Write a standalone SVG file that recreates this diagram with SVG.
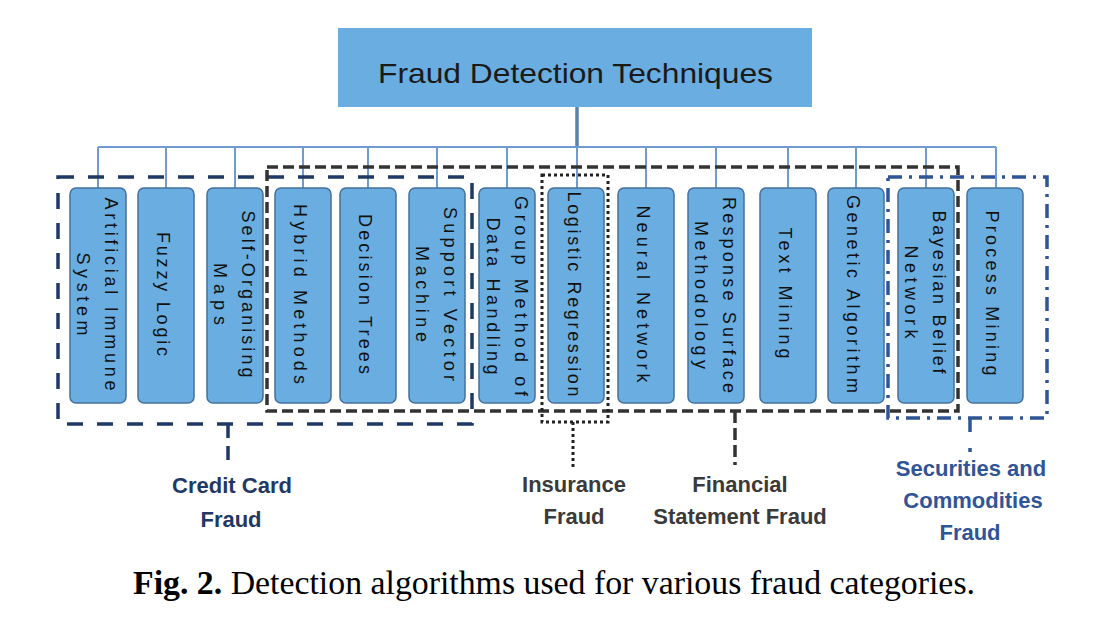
<svg xmlns="http://www.w3.org/2000/svg" width="1120" height="625" viewBox="0 0 1120 625">
<style>
.bg{fill:#ffffff}
.top{fill:#6aade0}
.toptxt{font-family:"Liberation Sans",Arial,sans-serif;font-size:28px;fill:#1a1a1a}
.conn{stroke:#6f9bd0;stroke-width:2;fill:none}
.stem{stroke:#5b82ad;stroke-width:3.5;fill:none}
.node{fill:#6aade0;stroke:#45709c;stroke-width:1.5}
.nt{font-family:"Liberation Sans",Arial,sans-serif;font-size:18px;fill:#111;text-anchor:middle}
.g-cc{fill:none;stroke:#1f3864;stroke-width:3.5;stroke-dasharray:16 14}
.g-fs{fill:none;stroke:#333333;stroke-width:3.5;stroke-dasharray:11 5}
.g-in{fill:none;stroke:#222222;stroke-width:3;stroke-dasharray:3 3}
.g-sc{fill:none;stroke:#2f5597;stroke-width:3.5;stroke-dasharray:14 7 3 7}
.lbl{font-family:"Liberation Sans",Arial,sans-serif;font-size:22px;font-weight:bold;text-anchor:middle}
.cap{font-family:"Liberation Serif","Times New Roman",serif;font-size:33px;fill:#000;text-anchor:middle}
</style>
<rect class="bg" x="0" y="0" width="1120" height="625"/>

<g id="root">
<rect class="top" x="338" y="28" width="474" height="79"/>
<text class="toptxt" x="575.5" y="83" text-anchor="middle" textLength="395" lengthAdjust="spacingAndGlyphs">Fraud Detection Techniques</text>
</g>

<g id="connectors">
<line class="stem" x1="577" y1="107" x2="577" y2="148"/>
<line class="conn" x1="98" y1="147" x2="996" y2="147"/>
<line class="conn" x1="98" y1="147" x2="98" y2="188"/>
<line class="conn" x1="166" y1="147" x2="166" y2="188"/>
<line class="conn" x1="235" y1="147" x2="235" y2="188"/>
<line class="conn" x1="303" y1="147" x2="303" y2="188"/>
<line class="conn" x1="368" y1="147" x2="368" y2="188"/>
<line class="conn" x1="437" y1="147" x2="437" y2="188"/>
<line class="conn" x1="507" y1="147" x2="507" y2="188"/>
<line class="conn" x1="577" y1="147" x2="577" y2="188"/>
<line class="conn" x1="646" y1="147" x2="646" y2="188"/>
<line class="conn" x1="716" y1="147" x2="716" y2="188"/>
<line class="conn" x1="788" y1="147" x2="788" y2="188"/>
<line class="conn" x1="856" y1="147" x2="856" y2="188"/>
<line class="conn" x1="926" y1="147" x2="926" y2="188"/>
<line class="conn" x1="996" y1="147" x2="996" y2="188"/>
</g>

<g id="group-credit-card">
<rect class="g-cc" x="58" y="177" width="414" height="247"/>
<line class="g-cc" x1="228" y1="424" x2="228" y2="467" style="stroke-dasharray:14 8"/>
<text class="lbl" fill="#1f3864"><tspan x="232" y="493">Credit Card</tspan><tspan x="231" y="527">Fraud</tspan></text>
</g>

<g id="group-financial">
<rect class="g-fs" x="267" y="167" width="691" height="244"/>
<line class="g-fs" x1="735" y1="411" x2="735" y2="465" style="stroke-dasharray:12 5"/>
<text class="lbl" fill="#3a3a3a"><tspan x="740" y="492">Financial</tspan><tspan x="740" y="524">Statement Fraud</tspan></text>
</g>

<g id="group-insurance">
<rect class="g-in" x="542" y="175" width="66" height="247"/>
<line class="g-in" x1="573" y1="422" x2="573" y2="467"/>
<text class="lbl" fill="#3a3a3a"><tspan x="574" y="492">Insurance</tspan><tspan x="574" y="524">Fraud</tspan></text>
</g>

<g id="group-securities">
<rect class="g-sc" x="888" y="177" width="159" height="241"/>
<line class="g-sc" x1="970" y1="418" x2="970" y2="452" style="stroke-dasharray:14 16 4 10"/>
<text class="lbl" fill="#2f5597"><tspan x="971" y="476">Securities and</tspan><tspan x="973" y="508">Commodities</tspan><tspan x="970" y="540">Fraud</tspan></text>
</g>

<g id="n1"><rect class="node" x="70" y="188" width="56" height="215" rx="6"/>
<g transform="translate(98,294) rotate(90)"><text class="nt" x="0" y="-6.5" textLength="193" lengthAdjust="spacing">Artificial Immune</text><text class="nt" x="0" y="21.5" textLength="83" lengthAdjust="spacing">System</text></g></g>
<g id="n2"><rect class="node" x="138" y="188" width="56" height="215" rx="6"/>
<g transform="translate(166,294) rotate(90)"><text class="nt" x="0" y="9.5" textLength="124" lengthAdjust="spacing">Fuzzy Logic</text></g></g>
<g id="n3"><rect class="node" x="207" y="188" width="56" height="215" rx="6"/>
<g transform="translate(235,294) rotate(90)"><text class="nt" x="0" y="-6.5" textLength="167" lengthAdjust="spacing">Self-Organising</text><text class="nt" x="0" y="21.5" textLength="62" lengthAdjust="spacing">Maps</text></g></g>
<g id="n4"><rect class="node" x="275" y="188" width="56" height="215" rx="6"/>
<g transform="translate(303,294) rotate(90)"><text class="nt" x="0" y="9.5" textLength="180" lengthAdjust="spacing">Hybrid Methods</text></g></g>
<g id="n5"><rect class="node" x="340" y="188" width="56" height="215" rx="6"/>
<g transform="translate(368,294) rotate(90)"><text class="nt" x="0" y="9.5" textLength="160" lengthAdjust="spacing">Decision Trees</text></g></g>
<g id="n6"><rect class="node" x="409" y="188" width="56" height="215" rx="6"/>
<g transform="translate(437,294) rotate(90)"><text class="nt" x="0" y="-6.5" textLength="174" lengthAdjust="spacing">Support Vector</text><text class="nt" x="0" y="21.5" textLength="96" lengthAdjust="spacing">Machine</text></g></g>
<g id="n7"><rect class="node" x="479" y="188" width="56" height="215" rx="6"/>
<g transform="translate(507,296) rotate(90)"><text class="nt" x="0" y="-8" textLength="200" lengthAdjust="spacing">Group Method of</text><text class="nt" x="0" y="20.5" textLength="157" lengthAdjust="spacing">Data Handling</text></g></g>
<g id="n8"><rect class="node" x="548" y="188" width="56" height="215" rx="6"/>
<g transform="translate(577,294) rotate(90)"><text class="nt" x="0" y="9.5" textLength="205" lengthAdjust="spacing">Logistic Regression</text></g></g>
<g id="n9"><rect class="node" x="618" y="188" width="56" height="215" rx="6"/>
<g transform="translate(646,294) rotate(90)"><text class="nt" x="0" y="9.5" textLength="177" lengthAdjust="spacing">Neural Network</text></g></g>
<g id="n10"><rect class="node" x="688" y="188" width="56" height="215" rx="6"/>
<g transform="translate(716,295) rotate(90)"><text class="nt" x="0" y="-6.5" textLength="196" lengthAdjust="spacing">Response Surface</text><text class="nt" x="0" y="21.5" textLength="148" lengthAdjust="spacing">Methodology</text></g></g>
<g id="n11"><rect class="node" x="760" y="188" width="56" height="215" rx="6"/>
<g transform="translate(788,293) rotate(90)"><text class="nt" x="0" y="9.5" textLength="131" lengthAdjust="spacing">Text Mining</text></g></g>
<g id="n12"><rect class="node" x="828" y="188" width="56" height="215" rx="6"/>
<g transform="translate(856,294) rotate(90)"><text class="nt" x="0" y="9.5" textLength="198" lengthAdjust="spacing">Genetic Algorithm</text></g></g>
<g id="n13"><rect class="node" x="898" y="188" width="56" height="215" rx="6"/>
<g transform="translate(926,292) rotate(90)"><text class="nt" x="0" y="-6.5" textLength="163" lengthAdjust="spacing">Bayesian Belief</text><text class="nt" x="0" y="21.5" textLength="93" lengthAdjust="spacing">Network</text></g></g>
<g id="n14"><rect class="node" x="967" y="188" width="56" height="215" rx="6"/>
<g transform="translate(995,293) rotate(90)"><text class="nt" x="0" y="9.5" textLength="165" lengthAdjust="spacing">Process Mining</text></g></g>

<text class="cap" x="554" y="594" textLength="842" lengthAdjust="spacingAndGlyphs"><tspan font-weight="bold">Fig. 2.</tspan> Detection algorithms used for various fraud categories.</text>
</svg>
